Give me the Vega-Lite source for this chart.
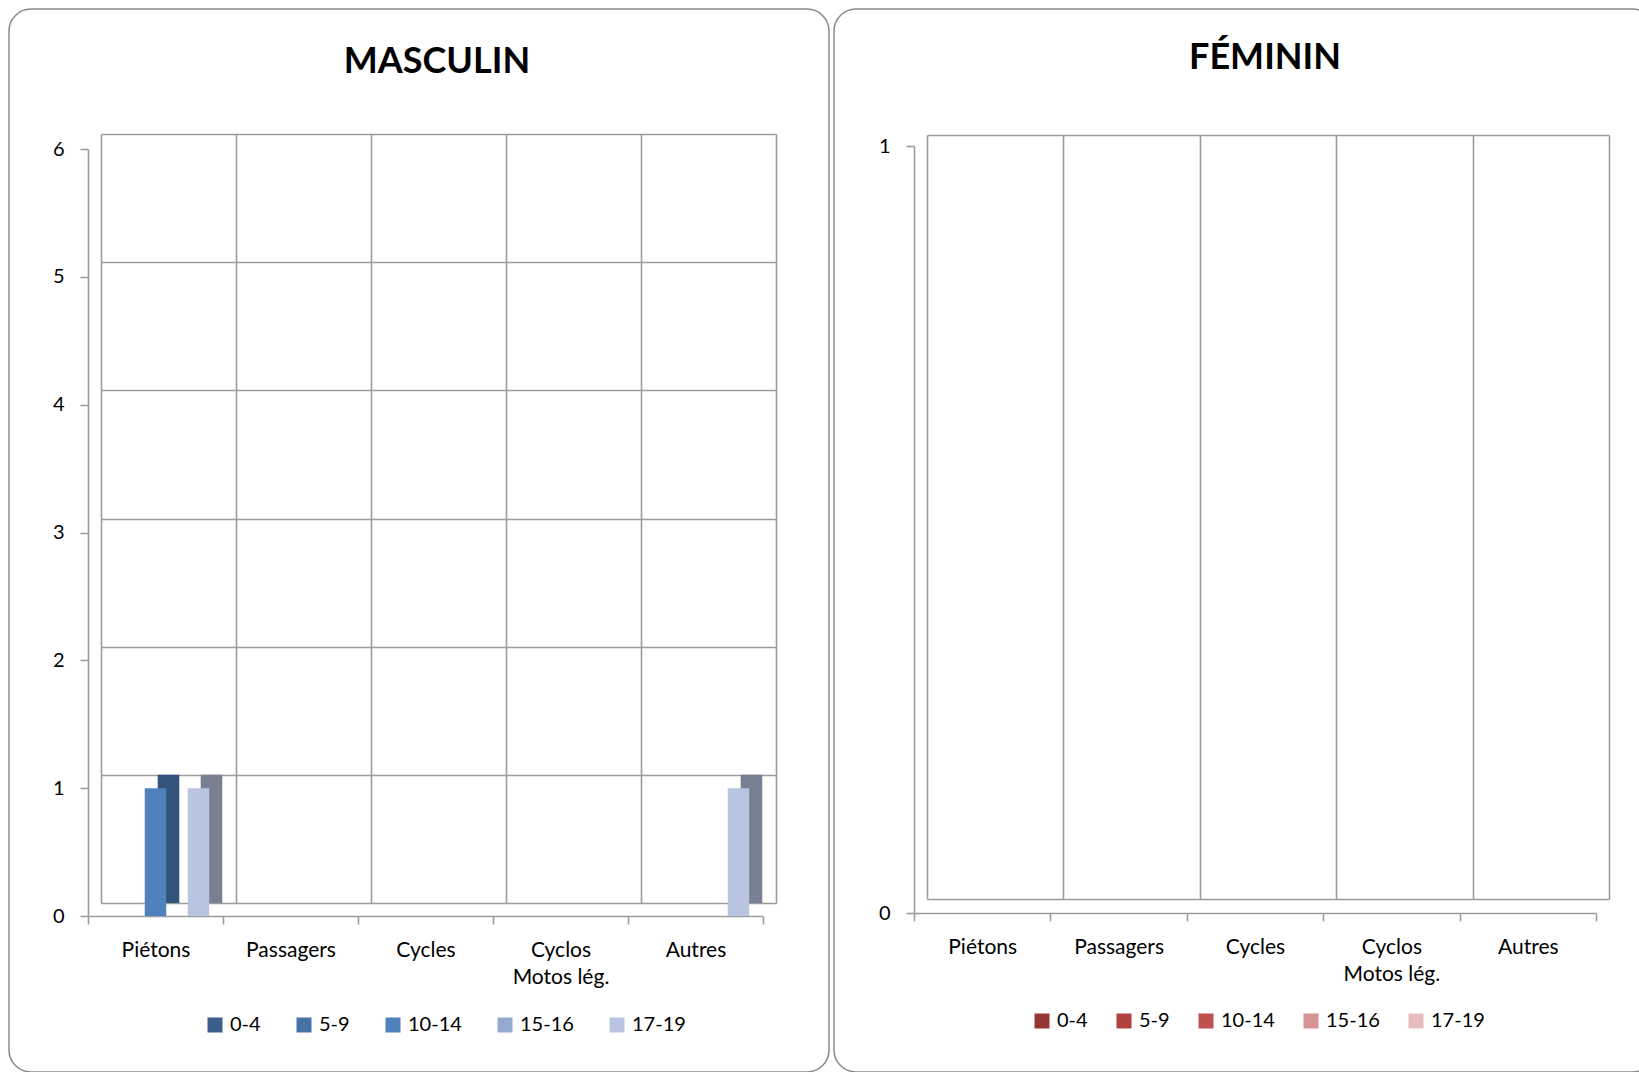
{
  "$schema": "https://vega.github.io/schema/vega-lite/v6.json",
  "padding": {"left": 8, "top": 8, "right": 0, "bottom": 0},
  "background": "white",
  "datasets": {
    "masc": [
      {"cat": "Piétons", "age": "0-4", "n": 0},
      {"cat": "Piétons", "age": "5-9", "n": 0},
      {"cat": "Piétons", "age": "10-14", "n": 1},
      {"cat": "Piétons", "age": "15-16", "n": 0},
      {"cat": "Piétons", "age": "17-19", "n": 1},
      {"cat": "Passagers", "age": "0-4", "n": 0},
      {"cat": "Passagers", "age": "5-9", "n": 0},
      {"cat": "Passagers", "age": "10-14", "n": 0},
      {"cat": "Passagers", "age": "15-16", "n": 0},
      {"cat": "Passagers", "age": "17-19", "n": 0},
      {"cat": "Cycles", "age": "0-4", "n": 0},
      {"cat": "Cycles", "age": "5-9", "n": 0},
      {"cat": "Cycles", "age": "10-14", "n": 0},
      {"cat": "Cycles", "age": "15-16", "n": 0},
      {"cat": "Cycles", "age": "17-19", "n": 0},
      {"cat": "Cyclos Motos lég.", "age": "0-4", "n": 0},
      {"cat": "Cyclos Motos lég.", "age": "5-9", "n": 0},
      {"cat": "Cyclos Motos lég.", "age": "10-14", "n": 0},
      {"cat": "Cyclos Motos lég.", "age": "15-16", "n": 0},
      {"cat": "Cyclos Motos lég.", "age": "17-19", "n": 0},
      {"cat": "Autres", "age": "0-4", "n": 0},
      {"cat": "Autres", "age": "5-9", "n": 0},
      {"cat": "Autres", "age": "10-14", "n": 0},
      {"cat": "Autres", "age": "15-16", "n": 0},
      {"cat": "Autres", "age": "17-19", "n": 1}
    ],
    "fem": [
      {"cat": "Piétons", "age": "0-4", "n": 0},
      {"cat": "Piétons", "age": "5-9", "n": 0},
      {"cat": "Piétons", "age": "10-14", "n": 0},
      {"cat": "Piétons", "age": "15-16", "n": 0},
      {"cat": "Piétons", "age": "17-19", "n": 0},
      {"cat": "Passagers", "age": "0-4", "n": 0},
      {"cat": "Passagers", "age": "5-9", "n": 0},
      {"cat": "Passagers", "age": "10-14", "n": 0},
      {"cat": "Passagers", "age": "15-16", "n": 0},
      {"cat": "Passagers", "age": "17-19", "n": 0},
      {"cat": "Cycles", "age": "0-4", "n": 0},
      {"cat": "Cycles", "age": "5-9", "n": 0},
      {"cat": "Cycles", "age": "10-14", "n": 0},
      {"cat": "Cycles", "age": "15-16", "n": 0},
      {"cat": "Cycles", "age": "17-19", "n": 0},
      {"cat": "Cyclos Motos lég.", "age": "0-4", "n": 0},
      {"cat": "Cyclos Motos lég.", "age": "5-9", "n": 0},
      {"cat": "Cyclos Motos lég.", "age": "10-14", "n": 0},
      {"cat": "Cyclos Motos lég.", "age": "15-16", "n": 0},
      {"cat": "Cyclos Motos lég.", "age": "17-19", "n": 0},
      {"cat": "Autres", "age": "0-4", "n": 0},
      {"cat": "Autres", "age": "5-9", "n": 0},
      {"cat": "Autres", "age": "10-14", "n": 0},
      {"cat": "Autres", "age": "15-16", "n": 0},
      {"cat": "Autres", "age": "17-19", "n": 0}
    ]
  },
  "spacing": 3,
  "resolve": {"scale": {"color": "independent"}, "legend": {"color": "independent"}},
  "hconcat": [
    {
      "width": 820,
      "height": 1063,
      "view": {"stroke": "#8a8a8a", "strokeWidth": 1.5, "cornerRadius": 22, "fill": "white"},
      "title": {"text": "MASCULIN", "frame": "group", "anchor": "middle", "dx": 18, "dy": 100, "offset": 0, "baseline": "alphabetic", "fontSize": 36, "font": "Lato", "fontWeight": "bold", "color": "#000000"},
      "data": {"name": "masc"},
      "resolve": {"scale": {"x": "independent", "y": "independent", "xOffset": "independent"}, "axis": {"x": "independent", "y": "independent"}},
      "layer": [
        {
          "encoding": {
            "x": {"field": "cat", "type": "nominal", "sort": null, "scale": {"range": [92, 767], "paddingInner": 0, "paddingOuter": 0},
                  "axis": {"orient": "top", "grid": true, "tickBand": "extent", "labels": false, "ticks": false, "domain": false, "title": null, "gridColor": "#9c9c9c", "gridWidth": 1.6}},
            "xOffset": {"field": "age", "type": "nominal", "sort": null, "scale": {"paddingInner": 0, "paddingOuter": 0.64}},
            "y": {"field": "n", "type": "quantitative", "scale": {"domain": [0, 6], "range": [894, 125], "nice": false},
                  "axis": {"orient": "left", "grid": true, "values": [0, 1, 2, 3, 4, 5, 6], "labels": false, "ticks": false, "domain": false, "title": null, "gridColor": "#9c9c9c", "gridWidth": 1.6}}
          },
          "layer": [
            {"mark": {"type": "bar"},
             "encoding": {"color": {"field": "age", "type": "nominal", "sort": null,
               "scale": {"domain": ["0-4", "5-9", "10-14", "15-16", "17-19"], "range": ["#3c5e8c", "#4571a6", "#4f81bd", "#95a9d0", "#b9c5e0"]},
               "legend": {"orient": "none", "legendX": 196, "legendY": 1006, "direction": "horizontal", "title": null, "symbolType": "square", "symbolSize": 225, "symbolStrokeWidth": 0, "labelFontSize": 20, "labelOffset": 5, "columnPadding": 33, "labelFont": "Lato", "labelColor": "#000000"}}}},
            {"mark": {"type": "bar", "color": "#000000", "opacity": 0.35}}
          ]
        },
        {
          "mark": {"type": "bar"},
          "encoding": {
            "x": {"field": "cat", "type": "nominal", "sort": null, "scale": {"range": [79, 754], "paddingInner": 0, "paddingOuter": 0},
                  "axis": {"orient": "bottom", "offset": -156, "grid": false, "tickBand": "extent", "title": null, "labelAngle": 0, "labelExpr": "datum.value == 'Cyclos Motos lég.' ? ['Cyclos', 'Motos lég.'] : datum.label", "labelLineHeight": 27, "labelPadding": 15, "labelFont": "Lato", "labelFontSize": 21, "labelColor": "#000000", "domainColor": "#9c9c9c", "domainWidth": 1.6, "tickColor": "#9c9c9c", "tickWidth": 1.6, "tickSize": 8, "labelOverlap": false}},
            "xOffset": {"field": "age", "type": "nominal", "sort": null, "scale": {"paddingInner": 0, "paddingOuter": 0.64}},
            "y": {"field": "n", "type": "quantitative", "scale": {"domain": [0, 6], "range": [907, 140], "nice": false},
                  "axis": {"orient": "left", "offset": -79, "grid": false, "values": [0, 1, 2, 3, 4, 5, 6], "format": "d", "title": null, "labelPadding": 16, "labelFont": "Lato", "labelFontSize": 20, "labelColor": "#000000", "domainColor": "#9c9c9c", "domainWidth": 1.6, "tickColor": "#9c9c9c", "tickWidth": 1.6, "tickSize": 8, "labelFlush": false}},
            "color": {"field": "age", "type": "nominal", "sort": null,
              "scale": {"domain": ["0-4", "5-9", "10-14", "15-16", "17-19"], "range": ["#3c5e8c", "#4571a6", "#4f81bd", "#95a9d0", "#b9c5e0"]},
              "legend": {"orient": "none", "legendX": 196, "legendY": 1006, "direction": "horizontal", "title": null, "symbolType": "square", "symbolSize": 225, "symbolStrokeWidth": 0, "labelFontSize": 20, "labelOffset": 5, "columnPadding": 33, "labelFont": "Lato", "labelColor": "#000000"}}
          }
        }
      ]
    },
    {
      "width": 820,
      "height": 1063,
      "view": {"stroke": "#8a8a8a", "strokeWidth": 1.5, "cornerRadius": 22, "fill": "white"},
      "title": {"text": "FÉMININ", "frame": "group", "anchor": "middle", "dx": 21, "dy": 96, "offset": 0, "baseline": "alphabetic", "fontSize": 36, "font": "Lato", "fontWeight": "bold", "color": "#000000"},
      "data": {"name": "fem"},
      "resolve": {"scale": {"x": "independent", "y": "independent", "xOffset": "independent"}, "axis": {"x": "independent", "y": "independent"}},
      "layer": [
        {
          "encoding": {
            "x": {"field": "cat", "type": "nominal", "sort": null, "scale": {"range": [93, 775], "paddingInner": 0, "paddingOuter": 0},
                  "axis": {"orient": "top", "grid": true, "tickBand": "extent", "labels": false, "ticks": false, "domain": false, "title": null, "gridColor": "#9c9c9c", "gridWidth": 1.6}},
            "xOffset": {"field": "age", "type": "nominal", "sort": null, "scale": {"paddingInner": 0, "paddingOuter": 0.64}},
            "y": {"field": "n", "type": "quantitative", "scale": {"domain": [0, 1], "range": [890, 126], "nice": false},
                  "axis": {"orient": "left", "grid": true, "values": [0, 1], "labels": false, "ticks": false, "domain": false, "title": null, "gridColor": "#9c9c9c", "gridWidth": 1.6}}
          },
          "layer": [
            {"mark": {"type": "bar"},
             "encoding": {"color": {"field": "age", "type": "nominal", "sort": null,
               "scale": {"domain": ["0-4", "5-9", "10-14", "15-16", "17-19"], "range": ["#963634", "#b0433f", "#c0504d", "#d59392", "#e6bdbc"]},
               "legend": {"orient": "none", "legendX": 198, "legendY": 1002, "direction": "horizontal", "title": null, "symbolType": "square", "symbolSize": 225, "symbolStrokeWidth": 0, "labelFontSize": 20, "labelOffset": 5, "columnPadding": 26, "labelFont": "Lato", "labelColor": "#000000"}}}},
            {"mark": {"type": "bar", "color": "#000000", "opacity": 0.35}}
          ]
        },
        {
          "mark": {"type": "bar"},
          "encoding": {
            "x": {"field": "cat", "type": "nominal", "sort": null, "scale": {"range": [80, 762], "paddingInner": 0, "paddingOuter": 0},
                  "axis": {"orient": "bottom", "offset": -159, "grid": false, "tickBand": "extent", "title": null, "labelAngle": 0, "labelExpr": "datum.value == 'Cyclos Motos lég.' ? ['Cyclos', 'Motos lég.'] : datum.label", "labelLineHeight": 27, "labelPadding": 15, "labelFont": "Lato", "labelFontSize": 21, "labelColor": "#000000", "domainColor": "#9c9c9c", "domainWidth": 1.6, "tickColor": "#9c9c9c", "tickWidth": 1.6, "tickSize": 8, "labelOverlap": false}},
            "xOffset": {"field": "age", "type": "nominal", "sort": null, "scale": {"paddingInner": 0, "paddingOuter": 0.64}},
            "y": {"field": "n", "type": "quantitative", "scale": {"domain": [0, 1], "range": [904, 137], "nice": false},
                  "axis": {"orient": "left", "offset": -80, "grid": false, "values": [0, 1], "format": "d", "title": null, "labelPadding": 16, "labelFont": "Lato", "labelFontSize": 20, "labelColor": "#000000", "domainColor": "#9c9c9c", "domainWidth": 1.6, "tickColor": "#9c9c9c", "tickWidth": 1.6, "tickSize": 8, "labelFlush": false}},
            "color": {"field": "age", "type": "nominal", "sort": null,
              "scale": {"domain": ["0-4", "5-9", "10-14", "15-16", "17-19"], "range": ["#963634", "#b0433f", "#c0504d", "#d59392", "#e6bdbc"]},
              "legend": {"orient": "none", "legendX": 198, "legendY": 1002, "direction": "horizontal", "title": null, "symbolType": "square", "symbolSize": 225, "symbolStrokeWidth": 0, "labelFontSize": 20, "labelOffset": 5, "columnPadding": 26, "labelFont": "Lato", "labelColor": "#000000"}}
          }
        }
      ]
    }
  ]
}
